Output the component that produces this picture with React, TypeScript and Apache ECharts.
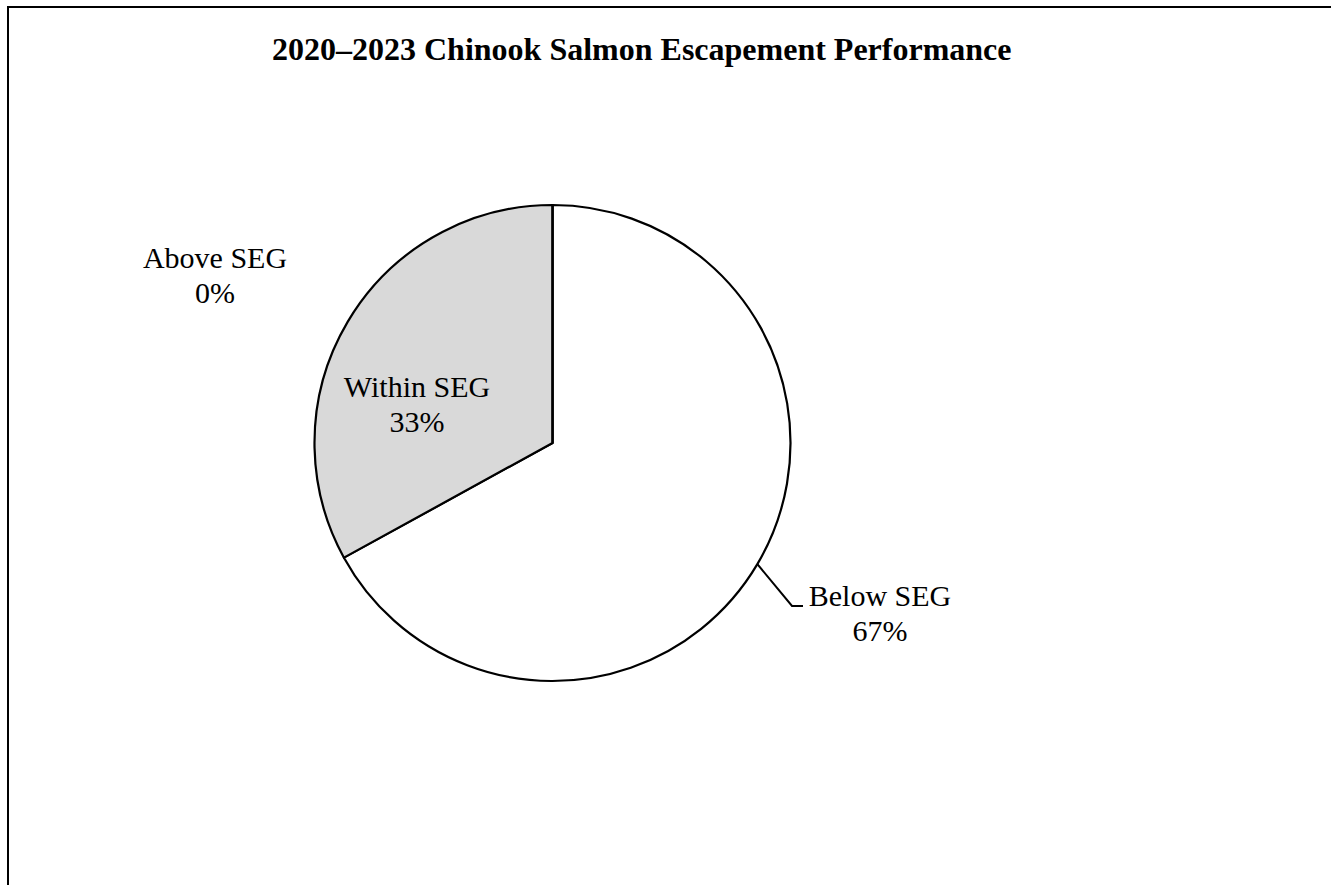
import React, { useEffect, useRef } from "react";
import * as echarts from "echarts";

const titleText = "2020–2023 Chinook Salmon Escapement Performance";
const categories = ["Below SEG", "Within SEG", "Above SEG"];
const shares = [67, 33, 0];
const sliceColors = ["#ffffff", "#d9d9d9", "#ffffff"];

const FONT = "'Liberation Serif', 'Times New Roman', serif";

export default function App() {
  const ref = useRef<HTMLDivElement | null>(null);

  useEffect(() => {
    if (!ref.current) return;
    const chart = echarts.init(ref.current, undefined, { renderer: "svg" });

    const labelPlacement: Record<number, { x: number; y: number }> = {
      0: { x: 880, y: 613 },
      1: { x: 417, y: 404 },
      2: { x: 215, y: 275 },
    };

    const data = categories.map((name, i) => ({
      name,
      value: shares[i],
      itemStyle: { color: sliceColors[i] },
      label: { position: i === 1 ? "inside" : "outside" },
      labelLine: { show: i === 0 },
    }));

    chart.setOption({
      animation: false,
      backgroundColor: "#ffffff",
      title: {
        text: titleText,
        left: 267,
        top: 28,
        textStyle: {
          fontFamily: FONT,
          fontWeight: "bold",
          fontSize: 32,
          color: "#000000",
        },
      },
      graphic: [
        {
          type: "rect",
          silent: true,
          shape: { x: 8, y: 7, width: 1500, height: 1000 },
          style: { fill: "none", stroke: "#000000", lineWidth: 2 },
        },
      ],
      series: [
        {
          type: "pie",
          center: [552.5, 443],
          radius: 238,
          startAngle: 90,
          clockwise: true,
          avoidLabelOverlap: false,
          percentPrecision: 0,
          silent: true,
          itemStyle: { borderColor: "#000000", borderWidth: 2.2 },
          label: {
            show: true,
            formatter: "{b}\n{d}%",
            fontFamily: FONT,
            fontSize: 30,
            lineHeight: 35,
            color: "#000000",
            align: "center",
          },
          labelLine: {
            show: true,
            smooth: false,
            lineStyle: { color: "#000000", width: 2 },
          },
          labelLayout: (params: any) => {
            const p = labelPlacement[params.dataIndex];
            const out: any = {
              x: p.x,
              y: p.y,
              align: "center",
              verticalAlign: "middle",
            };
            if (params.dataIndex === 0 && params.labelLinePoints) {
              const start = params.labelLinePoints[0];
              out.labelLinePoints = [start, [792, 606], [803, 606]];
            }
            return out;
          },
          data,
        },
      ],
    });

    return () => chart.dispose();
  }, []);

  return (
    <div
      ref={ref}
      style={{ position: "absolute", left: 0, top: 0, width: 1331, height: 885 }}
    />
  );
}
